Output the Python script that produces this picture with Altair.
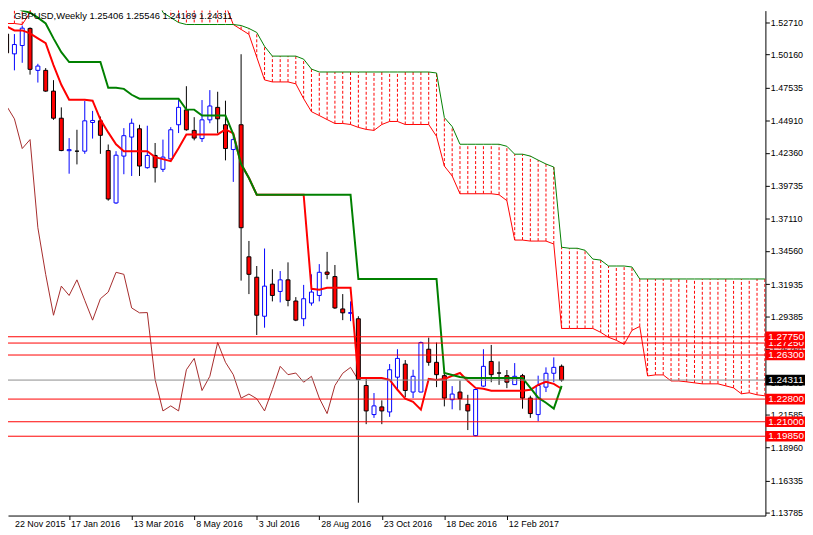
import altair as alt
import pandas as pd

# ---------------- data ----------------
opens = [1.5179, 1.5022, 1.5088, 1.5224, 1.4891, 1.4891, 1.4726, 1.4511, 1.4253, 1.4249,
         1.4249, 1.4477, 1.4490, 1.4254, 1.3838, 1.4210, 1.4361, 1.4427, 1.4118, 1.4215,
         1.4105, 1.4188, 1.4459, 1.4577, 1.4414, 1.4349, 1.4498, 1.4597, 1.4459, 1.4262,
         1.4459, 1.3410, 1.3248, 1.2938, 1.3193, 1.3135, 1.3227, 1.3059, 1.2918, 1.3043,
         1.3103, 1.3289, 1.3253, 1.2996, 1.2961, 1.2918, 1.2388, 1.2157, 1.2218, 1.2178,
         1.2454, 1.2558, 1.2336, 1.2336, 1.2676, 1.2572, 1.2466, 1.2275, 1.2336, 1.2238,
         1.1990, 1.2383, 1.2579, 1.2487, 1.2466, 1.2395, 1.2466, 1.2288, 1.2157, 1.2375,
         1.2485, 1.25406]
highs = [1.5208, 1.5179, 1.5247, 1.5232, 1.4943, 1.4909, 1.4813, 1.4597, 1.4353, 1.4419,
         1.4648, 1.4569, 1.4524, 1.4302, 1.4249, 1.4432, 1.4508, 1.4459, 1.4451, 1.4314,
         1.4341, 1.4440, 1.4655, 1.4765, 1.4519, 1.4655, 1.4734, 1.4721, 1.4650, 1.4367,
         1.5019, 1.3536, 1.3337, 1.3476, 1.3311, 1.3297, 1.3366, 1.3090, 1.3187, 1.3271,
         1.3352, 1.3449, 1.3345, 1.3114, 1.3056, 1.2938, 1.2440, 1.2328, 1.2270, 1.2558,
         1.2676, 1.2590, 1.2513, 1.2737, 1.2768, 1.2729, 1.2493, 1.2383, 1.2427, 1.2314,
         1.2362, 1.2676, 1.2710, 1.2579, 1.2511, 1.2566, 1.2480, 1.2307, 1.2466, 1.2532,
         1.2611, 1.25546]
lows = [1.4996, 1.4891, 1.4951, 1.4857, 1.4794, 1.4721, 1.4498, 1.4249, 1.4070, 1.4144,
        1.4228, 1.4349, 1.4228, 1.3856, 1.3830, 1.4066, 1.4052, 1.4052, 1.4110, 1.4000,
        1.4084, 1.4184, 1.4393, 1.4412, 1.4335, 1.4322, 1.4471, 1.4393, 1.4176, 1.4005,
        1.3221, 1.3114, 1.2789, 1.2847, 1.3056, 1.3048, 1.3017, 1.2899, 1.2859, 1.3022,
        1.3056, 1.3232, 1.2996, 1.2907, 1.2899, 1.1457, 1.2081, 1.2131, 1.2081, 1.2139,
        1.2348, 1.2296, 1.2288, 1.2334, 1.2545, 1.2375, 1.2222, 1.2199, 1.2191, 1.2034,
        1.1985, 1.2377, 1.2414, 1.2393, 1.2367, 1.2393, 1.2204, 1.2131, 1.2104, 1.2336,
        1.2414, 1.24189]
closes = [1.5030, 1.5096, 1.5226, 1.4899, 1.4925, 1.4726, 1.4511, 1.4254, 1.4261, 1.4249,
          1.4490, 1.4493, 1.4375, 1.3869, 1.4217, 1.4372, 1.4471, 1.4131, 1.4215, 1.4118,
          1.4202, 1.4419, 1.4597, 1.4419, 1.4353, 1.4498, 1.4608, 1.4506, 1.4270, 1.4341,
          1.3641, 1.3271, 1.2946, 1.3177, 1.3103, 1.3227, 1.3064, 1.2907, 1.3077, 1.3130,
          1.3287, 1.3271, 1.3004, 1.2965, 1.2967, 1.2435, 1.2186, 1.2226, 1.2186, 1.2513,
          1.2603, 1.2348, 1.2461, 1.2729, 1.2572, 1.2474, 1.2288, 1.2320, 1.2283, 1.2186,
          1.2356, 1.2540, 1.2474, 1.2487, 1.2414, 1.2461, 1.2288, 1.2165, 1.2388, 1.2485,
          1.2532, 1.24311]

tenkan = [1.5240, 1.5208, 1.5208, 1.5185, 1.5145, 1.5106, 1.4933, 1.4776, 1.4658, 1.4658,
          1.4658, 1.4650, 1.4500, 1.4398, 1.4304, 1.4249, 1.4249, 1.4249, 1.4249, 1.4202,
          1.4186, 1.4170, 1.4272, 1.4382, 1.4382, 1.4382, 1.4382, 1.4382, 1.4422, 1.4390,
          1.4147, 1.4036, 1.3903, 1.3903, 1.3903, 1.3903, 1.3903, 1.3903, 1.3903, 1.3156,
          1.3148, 1.3164, 1.3164, 1.3164, 1.3164, 1.2448, 1.2448, 1.2448, 1.2448, 1.2432,
          1.2354, 1.2283, 1.2259, 1.2196, 1.2440, 1.2432, 1.2440, 1.2464, 1.2487, 1.2424,
          1.2369, 1.2362, 1.2346, 1.2346, 1.2346, 1.2346, 1.2346, 1.2354, 1.2393, 1.2417,
          1.2401, 1.2362]
kijun = [1.5444, 1.5405, 1.5365, 1.5350, 1.5310, 1.5263, 1.5145, 1.5035, 1.4957, 1.4957,
         1.4957, 1.4957, 1.4957, 1.4752, 1.4752, 1.4744, 1.4697, 1.4666, 1.4666, 1.4666,
         1.4666, 1.4666, 1.4666, 1.4579, 1.4579, 1.4532, 1.4532, 1.4532, 1.4532, 1.4382,
         1.4147, 1.4036, 1.3903, 1.3903, 1.3903, 1.3903, 1.3903, 1.3903, 1.3903, 1.3903,
         1.3903, 1.3903, 1.3903, 1.3903, 1.3903, 1.3234, 1.3234, 1.3234, 1.3234, 1.3234,
         1.3234, 1.3234, 1.3234, 1.3234, 1.3234, 1.3234, 1.2487, 1.2472, 1.2456, 1.2448,
         1.2448, 1.2448, 1.2448, 1.2448, 1.2448, 1.2448, 1.2448, 1.2369, 1.2291, 1.2251,
         1.2204, 1.2385]

senkou_a = [1.5263, 1.5263, 1.5255, 1.5350, 1.5664, 1.5664, 1.5664, 1.5664, 1.5664, 1.5664,
            1.5664, 1.5664, 1.5664, 1.5664, 1.5664, 1.5664, 1.5664, 1.5664, 1.5664, 1.5586,
            1.5468, 1.5389, 1.5413, 1.5413, 1.5413, 1.5413, 1.5413, 1.5413, 1.5413, 1.5255,
            1.5216, 1.5177, 1.4996, 1.4815, 1.4799, 1.4799, 1.4799, 1.4784, 1.4666, 1.4563,
            1.4532, 1.4500, 1.4469, 1.4469, 1.4461, 1.4438, 1.4422, 1.4414, 1.4461, 1.4485,
            1.4485, 1.4461, 1.4461, 1.4461, 1.4461, 1.4367, 1.4131, 1.4052, 1.3911, 1.3911,
            1.3911, 1.3911, 1.3911, 1.3903, 1.3856, 1.3543, 1.3543, 1.3535, 1.3535, 1.3535,
            1.3512, 1.2841, 1.2841, 1.2841, 1.2841, 1.2841, 1.2810, 1.2771, 1.2747, 1.2715,
            1.2826, 1.2857, 1.2464, 1.2472, 1.2472, 1.2424, 1.2424, 1.2417, 1.2409, 1.2401,
            1.2401, 1.2401, 1.2385, 1.2369, 1.2322, 1.2330, 1.2314, 1.2306]
senkou_b = [1.5743, 1.5743, 1.5743, 1.5743, 1.5743, 1.5743, 1.5743, 1.5743, 1.5743, 1.5743,
            1.5743, 1.5743, 1.5743, 1.5743, 1.5743, 1.5743, 1.5743, 1.5743, 1.5743, 1.5507,
            1.5350, 1.5310, 1.5271, 1.5255, 1.5255, 1.5255, 1.5255, 1.5255, 1.5255, 1.5255,
            1.5247, 1.5224, 1.5192, 1.5082, 1.5004, 1.5004, 1.5004, 1.5004, 1.4980, 1.4901,
            1.4878, 1.4878, 1.4878, 1.4878, 1.4878, 1.4878, 1.4878, 1.4878, 1.4878, 1.4878,
            1.4878, 1.4878, 1.4878, 1.4878, 1.4878, 1.4870, 1.4516, 1.4445, 1.4304, 1.4304,
            1.4304, 1.4304, 1.4304, 1.4304, 1.4288, 1.4225, 1.4225, 1.4210, 1.4178, 1.4147,
            1.4123, 1.3486, 1.3478, 1.3478, 1.3462, 1.3392, 1.3384, 1.3337, 1.3337, 1.3337,
            1.3329, 1.3234, 1.3234, 1.3234, 1.3234, 1.3234, 1.3234, 1.3234, 1.3234, 1.3234,
            1.3234, 1.3234, 1.3234, 1.3234, 1.3234, 1.3234, 1.3234, 1.3234]

level_values = [1.19850, 1.21000, 1.22800, 1.26300, 1.27250, 1.27750]
level_labels = ["1.19850", "1.21000", "1.22800", "1.26300", "1.27250", "1.27750"]
last_price = 1.24311
last_label = "1.24311"

y_ticks = [1.52710, 1.50160, 1.47535, 1.44910, 1.42360, 1.39735, 1.37110, 1.34560,
           1.31935, 1.29385, 1.26760, 1.24135, 1.21585, 1.18960, 1.16335, 1.13785]
date_pos = [0, 8, 16, 24, 32, 40, 48, 56, 64]
date_labels = ["22 Nov 2015", "17 Jan 2016", "13 Mar 2016", "8 May 2016", "3 Jul 2016",
               "28 Aug 2016", "23 Oct 2016", "18 Dec 2016", "12 Feb 2017"]
header = "GBPUSD,Weekly  1.25406 1.25546 1.24189 1.24311"

# ---------------- frames ----------------
n = len(opens)
candles = pd.DataFrame({"i": list(range(n)), "o": opens, "h": highs, "l": lows, "c": closes})
candles["bull"] = candles["c"] > candles["o"]
ind = pd.DataFrame({"i": list(range(n)), "tenkan": tenkan, "kijun": kijun})
chikou = pd.DataFrame({"i": [k - 26 for k in range(26, n)], "v": closes[26:]})
cloud = pd.DataFrame({"j": list(range(len(senkou_a))), "a": senkou_a, "b": senkou_b})
dates = pd.DataFrame({"i": date_pos, "lab": date_labels})

FONT = "Liberation Sans"
W, H = 765, 510
xs = alt.Scale(domain=[0.8125, 96.4375], nice=False, zero=False)
ys = alt.Scale(domain=[1.13550, 1.53654], nice=False, zero=False)
xaxis = alt.Axis(values=[8, 16, 24, 32, 40, 48, 56, 64], labels=False, tickSize=4,
                 tickColor="black", domainColor="black", grid=False, title=None)
yaxis = alt.Axis(orient="right", values=y_ticks, format=".5f", labelFont=FONT,
                 labelFontSize=9, labelColor="black", tickSize=4, tickColor="black",
                 domainColor="black", labelPadding=1, grid=False, title=None)


def X(f):
    return alt.X(f, type="quantitative", scale=xs, axis=xaxis)


def Y(f):
    return alt.Y(f, type="quantitative", scale=ys, axis=yaxis)


RED = "#ff0000"
GREEN = "#008000"
BLUE = "#0000ff"

hatch = alt.Chart(cloud).mark_rule(color=RED, strokeDash=[3, 2], strokeWidth=1, clip=True).encode(
    x=X("j"), y=Y("a"), y2="b")
span_a = alt.Chart(cloud).mark_line(color=RED, strokeWidth=1, clip=True).encode(x=X("j"), y=Y("a"))
span_b = alt.Chart(cloud).mark_line(color=GREEN, strokeWidth=1, clip=True).encode(x=X("j"), y=Y("b"))

chik = alt.Chart(chikou).mark_line(color="#a52a2a", strokeWidth=1, clip=True).encode(x=X("i"), y=Y("v"))

wicks = alt.Chart(candles).mark_rule(strokeWidth=1, clip=True).encode(
    x=X("i"), y=Y("l"), y2="h",
    color=alt.condition("datum.bull", alt.value(BLUE), alt.value("#000000")))
bodies = alt.Chart(candles).mark_bar(width=4, strokeWidth=1, clip=True).encode(
    x=X("i"), y=Y("o"), y2="c",
    fill=alt.condition("datum.bull", alt.value("#ffffff"), alt.value(RED)),
    stroke=alt.condition("datum.bull", alt.value(BLUE), alt.value("#000000")))

tk = alt.Chart(ind).mark_line(color=RED, strokeWidth=2, clip=True).encode(x=X("i"), y=Y("tenkan"))
kj = alt.Chart(ind).mark_line(color=GREEN, strokeWidth=2, clip=True).encode(x=X("i"), y=Y("kijun"))

lv_df = pd.DataFrame({"v": level_values, "lab": level_labels})
lp_df = pd.DataFrame({"v": [last_price], "lab": [last_label]})
lv_lines = alt.Chart(lv_df).mark_rule(color=RED, strokeWidth=1, clip=True).encode(y=Y("v"))
lp_line = alt.Chart(lp_df).mark_rule(color="#8c8c8c", strokeWidth=1, clip=True).encode(y=Y("v"))

BOX = "M-1,-0.27L1,-0.27L1,0.27L-1,0.27Z"
labels = []
for v, lab, col in list(zip(level_values[:2], level_labels[:2], [RED, RED])) + \
        [(last_price, last_label, "#000000")] + \
        list(zip(level_values[2:], level_labels[2:], [RED] * 4)):
    d = pd.DataFrame({"v": [v], "lab": [lab]})
    labels.append(alt.Chart(d).mark_point(shape=BOX, size=1600, filled=True, color=col,
                                          opacity=1, strokeWidth=0).encode(
        x=alt.value(785), y=Y("v")))
    labels.append(alt.Chart(d).mark_text(align="left", baseline="middle", font=FONT,
                                         fontSize=10, color="white").encode(
        x=alt.value(768), y=Y("v"), text="lab"))

date_txt = alt.Chart(dates).transform_calculate(xp="max(datum.i, 0.8125)").mark_text(
    align="left", baseline="middle", dx=2, font=FONT, fontSize=9, color="black").encode(
    x=X("xp"), y=alt.value(H + 9), text="lab")

head = alt.Chart(pd.DataFrame({"t": [header]})).mark_text(
    align="left", baseline="top", font=FONT, fontSize=9.5, color="black").encode(
    x=alt.value(6), y=alt.value(0), text="t")

chart = alt.layer(hatch, span_a, span_b, chik, wicks, bodies, tk, kj, lv_lines, lp_line,
                  *labels, date_txt, head).properties(
    width=W, height=H,
    autosize=alt.AutoSizeParams(type="none"),
    padding={"left": 0, "top": 0, "right": 40, "bottom": 17},
    background="white",
).configure_view(stroke=None)

chart.save("out.html", embed_options={"renderer": "svg", "actions": False})
